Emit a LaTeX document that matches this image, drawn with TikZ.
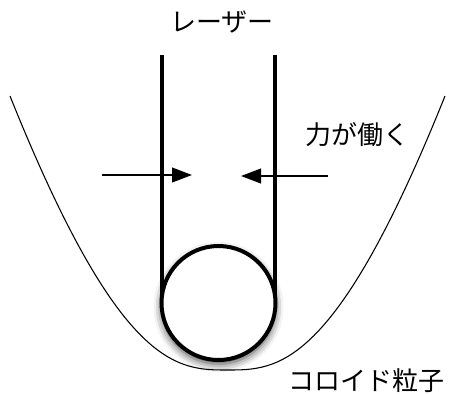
\documentclass[tikz,border=0pt]{standalone}
\usepackage{fontspec}
\newfontfamily\jpfont{Noto Sans CJK JP}
\usetikzlibrary{arrows.meta,shadows.blur}
\tikzset{
  lbl/.style={font=\jpfont\fontsize{19.5pt}{23pt}\selectfont, inner sep=0pt, anchor=center},
  laser/.style={line width=3pt},
  force/.style={line width=1.5pt, -{Triangle[length=15pt,width=11pt]}},
  well/.style={line width=0.8pt},
  particle/.style={circle, draw, line width=3pt, fill=white, minimum size=85.5pt, inner sep=0pt,
    blur shadow={shadow xshift=0pt, shadow yshift=-3pt, shadow blur radius=6pt, shadow opacity=75}}
}
\begin{document}
\begin{tikzpicture}[x=0.75pt,y=-0.75pt]
\useasboundingbox (0,0) rectangle (450,394);
% potential well
\coordinate (wl) at (10,96);
\coordinate (wb) at (227.5,370);
\coordinate (wr) at (445,96);
\draw[well] (wl) .. controls (120,370) and (177.5,370) .. (wb)
                 .. controls (277.5,370) and (335,370) .. (wr);
% force arrows
\coordinate (fl0) at (102,175);
\coordinate (fl1) at (192,175);
\coordinate (fr0) at (328,176);
\coordinate (fr1) at (241,176);
\draw[force] (fl0) -- (fl1);
\draw[force] (fr0) -- (fr1);
% laser
\coordinate (la0) at (162,55);
\coordinate (la1) at (162,303);
\coordinate (lb0) at (275,55);
\coordinate (lb1) at (275,303);
\draw[laser] (la0) -- (la1);
\draw[laser] (lb0) -- (lb1);
% particle
\node[particle] (p) at (218.5,303) {};
% labels
\node[lbl] (tlaser) at (222,22) {レーザー};
\node[lbl] (tforce) at (357,135) {力が働く};
\node[lbl] (tpart) at (366,381) {コロイド粒子};
\end{tikzpicture}
\end{document}
